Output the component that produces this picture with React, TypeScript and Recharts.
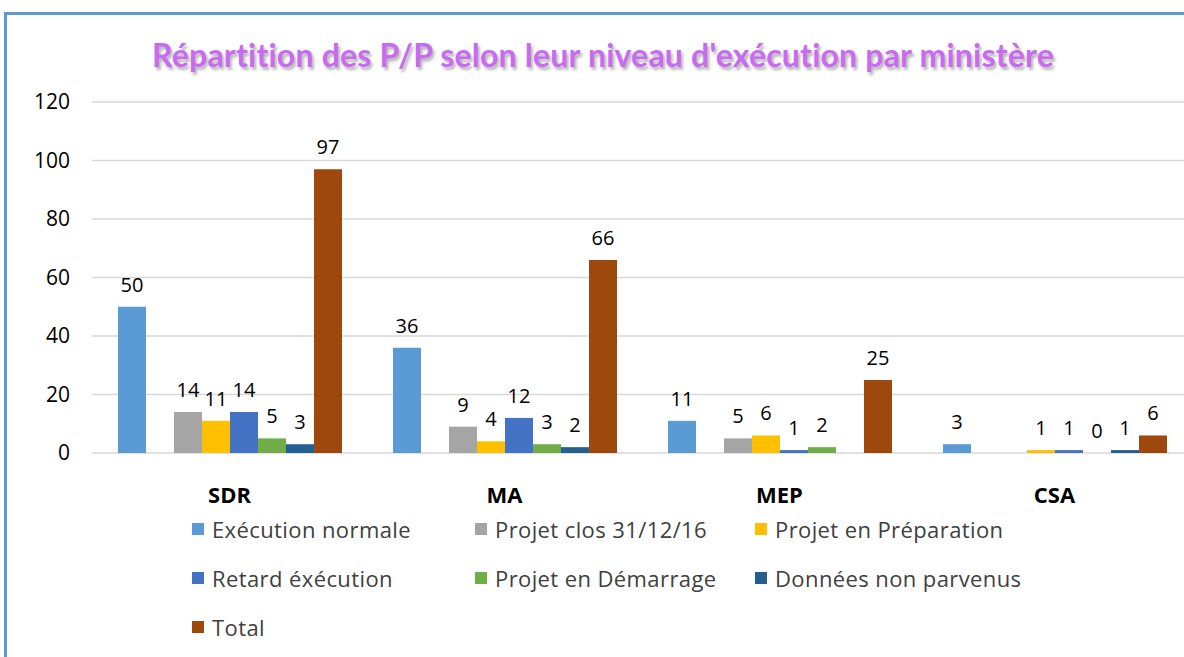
import { Bar, BarChart, CartesianGrid, LabelList, XAxis, YAxis } from "recharts";

const CATEGORIES = ["SDR", "MA", "MEP", "CSA"];
const EXECUTION_NORMALE = [50, 36, 11, 3];
const SLOT_VIDE = [null, null, null, null];
const PROJET_CLOS = [14, 9, 5, null];
const PROJET_PREPARATION = [11, 4, 6, 1];
const RETARD_EXECUTION = [14, 12, 1, 1];
const PROJET_DEMARRAGE = [5, 3, 2, 0];
const DONNEES_NON_PARVENUS = [3, 2, null, 1];
const TOTAL = [97, 66, 25, 6];
const Y_TICKS = [0, 20, 40, 60, 80, 100, 120];

const TITLE = "Répartition des P/P selon leur niveau d'exécution par ministère";
const FONT = "'Open Sans', sans-serif";

const SERIES = [
  { key: "normale", name: "Exécution normale", values: EXECUTION_NORMALE, color: "#5b9bd5" },
  { key: "vide", name: "", values: SLOT_VIDE, color: "transparent" },
  { key: "clos", name: "Projet clos 31/12/16", values: PROJET_CLOS, color: "#a5a5a5" },
  { key: "preparation", name: "Projet en Préparation", values: PROJET_PREPARATION, color: "#ffc000" },
  { key: "retard", name: "Retard éxécution", values: RETARD_EXECUTION, color: "#4472c4" },
  { key: "demarrage", name: "Projet en Démarrage", values: PROJET_DEMARRAGE, color: "#70ad47" },
  { key: "donnees", name: "Données non parvenus", values: DONNEES_NON_PARVENUS, color: "#255e91" },
  { key: "total", name: "Total", values: TOTAL, color: "#9e480e" },
];

const data = CATEGORIES.map((cat, i) => {
  const row: Record<string, string | number | null> = { name: cat };
  SERIES.forEach((s) => (row[s.key] = s.values[i]));
  return row;
});

const legendItems = SERIES.filter((s) => s.name !== "");

export default function App() {
  return (
    <div
      style={{
        position: "absolute",
        left: 0,
        top: 0,
        width: 1184,
        height: 657,
        overflow: "hidden",
        background: "#fff",
        fontFamily: FONT,
      }}
    >
      <div
        style={{
          position: "absolute",
          left: 4,
          top: 12,
          width: 1300,
          height: 700,
          borderTop: "3px solid #5b9bd5",
          borderLeft: "3px solid #5b9bd5",
        }}
      />
      <div
        style={{
          position: "absolute",
          left: 0,
          top: 35,
          width: 1206,
          textAlign: "center",
          fontFamily: "Lato, sans-serif",
          fontWeight: 700,
          fontSize: 32,
          letterSpacing: 0.2,
          color: "#c96af2",
          textShadow: "2px 3px 3px rgba(0,0,0,0.3)",
        }}
      >
        {TITLE}
      </div>
      <div style={{ position: "absolute", left: 0, top: 0 }}>
        <BarChart
          width={1200}
          height={657}
          data={data}
          margin={{ top: 102, right: 8, left: 0, bottom: 164 }}
          barCategoryGap={26}
          barGap={0}
        >
          <CartesianGrid vertical={false} stroke="#d9d9d9" strokeWidth={1.5} />
          <XAxis
            dataKey="name"
            height={40}
            axisLine={false}
            tickLine={false}
            tickSize={0}
            tickMargin={34}
            tick={{ fontSize: 22, fontWeight: 700, fill: "#000", fontFamily: FONT }}
          />
          <YAxis
            width={92}
            domain={[0, 120]}
            ticks={Y_TICKS}
            axisLine={false}
            tickLine={false}
            tickSize={0}
            tickMargin={22}
            tick={{ fontSize: 21, fill: "#000", fontFamily: FONT }}
          />
          {SERIES.map((s) => (
            <Bar
              key={s.key}
              dataKey={s.key}
              fill={s.color}
              minPointSize={0.01}
              isAnimationActive={false}
            >
              {s.name !== "" && (
                <LabelList
                  dataKey={s.key}
                  position="top"
                  offset={15}
                  style={{ fontSize: 20, fill: "#000", fontFamily: FONT }}
                />
              )}
            </Bar>
          ))}
        </BarChart>
      </div>
      <div
        style={{
          position: "absolute",
          left: 192,
          top: 514,
          display: "grid",
          gridTemplateColumns: "283px 280px 300px",
          rowGap: 19,
          fontSize: 22,
          letterSpacing: 0.4,
          color: "#404040",
          lineHeight: "30px",
        }}
      >
        {legendItems.map((s) => (
          <div key={s.key} style={{ display: "flex", alignItems: "center" }}>
            <span
              style={{ display: "inline-block", width: 12, height: 12, background: s.color, marginRight: 8 }}
            />
            {s.name}
          </div>
        ))}
      </div>
    </div>
  );
}
